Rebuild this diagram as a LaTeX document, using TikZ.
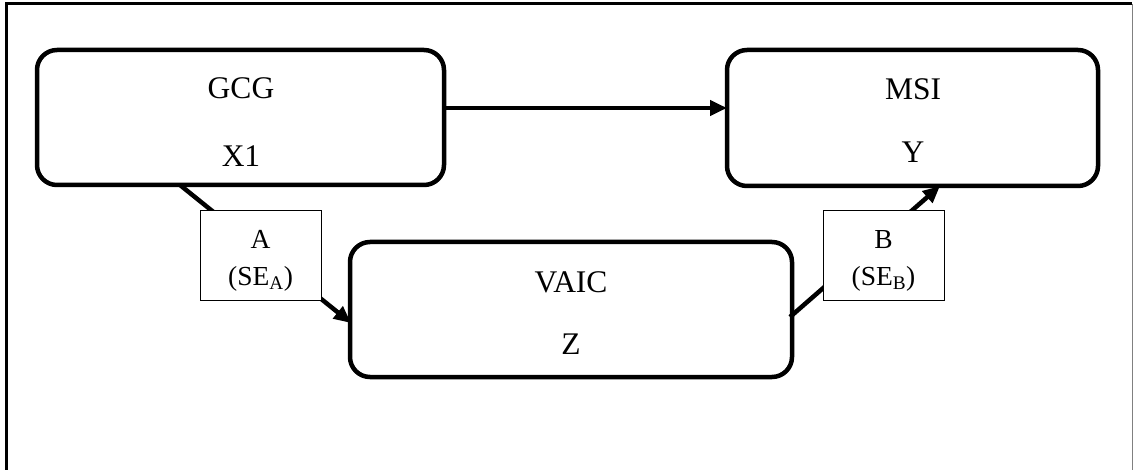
\documentclass[tikz,border=0pt]{standalone}
\usepackage{fontspec}
\setmainfont{Liberation Serif}
\usetikzlibrary{arrows.meta,calc}
\begin{document}
\begin{tikzpicture}[x=1pt,y=-1pt,
  bigbox/.style={draw,line width=4.5pt,rounded corners=20pt,inner sep=0pt},
  labbox/.style={draw,line width=1pt,fill=white,inner sep=0pt,minimum width=121pt,minimum height=89pt},
  bigtxt/.style={font=\fontsize{31.5}{34}\selectfont,anchor=base,inner sep=0pt},
  smalltxt/.style={font=\fontsize{27.5}{30}\selectfont,anchor=base,inner sep=0pt},
  arr/.style={line width=4.5pt,-{Triangle[length=17pt,width=15pt]}}]
\useasboundingbox (0,0) rectangle (1134,470);
\fill[white] (0,0) rectangle (1134,470);
% outer frame
\draw[line width=3pt] (6,500) -- (6,4) -- (1132,4);
\draw[line width=1pt,gray] (1132,4) -- (1132,470);
% main boxes
\node[bigbox,minimum width=407pt,minimum height=135pt] (gcg) at (240.5,117.5) {};
\node[bigbox,minimum width=371pt,minimum height=136pt] (msi) at (912.5,118) {};
\node[bigbox,minimum width=442pt,minimum height=135pt] (vaic) at (571,309.5) {};
% texts
\node[bigtxt] (t1) at (241,99) {GCG};
\node[bigtxt] (t2) at (241,167) {X1};
\node[bigtxt] (t3) at (913,100) {MSI};
\node[bigtxt] (t4) at (913,163) {Y};
\node[bigtxt] (t5) at (571,292) {VAIC};
\node[bigtxt] (t6) at (571,354) {Z};
% connectors
\coordinate (g1) at (444,108);
\coordinate (m1) at (727,108);
\draw[arr] (g1) -- (m1);
\coordinate (g2) at (180,185);
\coordinate (v1) at (351,323);
\draw[arr] (g2) -- (v1);
\coordinate (v2) at (790,317);
\coordinate (m2) at (940,186);
\draw[arr] (v2) -- (m2);
% label boxes
\node[labbox] (la) at (260.5,255.5) {};
\node[labbox] (lb) at (883.5,255.5) {};
\node[smalltxt] (la1) at (260.5,248) {A};
\node[smalltxt] (la2) at (260.5,285) {(SE\textsubscript{A})};
\node[smalltxt] (lb1) at (883.5,248) {B};
\node[smalltxt] (lb2) at (883.5,285) {(SE\textsubscript{B})};
\end{tikzpicture}
\end{document}
